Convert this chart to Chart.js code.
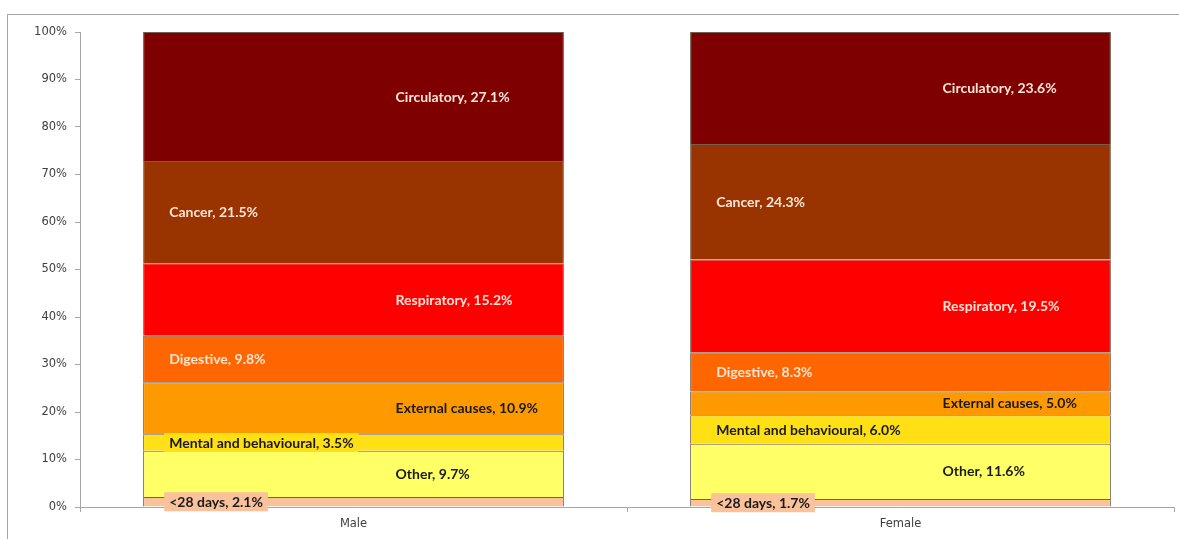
<!DOCTYPE html>
<html>
<head>
<meta charset="utf-8">
<script src="https://cdn.jsdelivr.net/npm/chart.js@4.4.0/dist/chart.umd.min.js"></script>
<style>
  html, body { margin: 0; padding: 0; background: #fff; overflow: hidden; }
  #frame { position: absolute; left: 7px; top: 14px; width: 1200px; height: 560px; border: 1px solid #a6a6a6; }
  #wrap { position: absolute; left: 0; top: 0; width: 1179px; height: 539px; }
</style>
</head>
<body>
<div id="frame"></div>
<div id="wrap"><canvas id="chart"></canvas></div>
<script>
// categories and causes, bottom of the stack first
const categories = ['Male', 'Female'];
const causes = ['<28 days', 'Other', 'Mental and behavioural', 'External causes', 'Digestive', 'Respiratory', 'Cancer', 'Circulatory'];
const maleShare = [2.1, 9.7, 3.5, 10.9, 9.8, 15.2, 21.5, 27.1];
const femaleShare = [1.7, 11.6, 6.0, 5.0, 8.3, 19.5, 24.3, 23.6];
const yTickValues = [0, 10, 20, 30, 40, 50, 60, 70, 80, 90, 100];

// styles
const fills = ['#F9C29A', '#FFFF66', '#FFE014', '#FF9900', '#FF6600', '#FF0000', '#993300', '#7F0000'];
const textColors = ['#1a1a1a', '#1a1a1a', '#1a1a1a', '#1a1a1a', '#FCE4D6', '#FCE4D6', '#FCE4D6', '#FCE4D6'];
const labelSide = ['left', 'right', 'left', 'right', 'left', 'right', 'left', 'right'];

const series = [maleShare, femaleShare];
const totals = series.map(s => s.reduce((a, b) => a + b, 0));

const datasets = causes.map((name, i) => ({
  label: name,
  data: series.map((s, c) => s[i] / totals[c] * 100),
  raw: series.map(s => s[i]),
  backgroundColor: fills[i],
  borderColor: 'rgba(70,40,20,0.75)',
  borderWidth: {top: 1, left: 1, right: 1, bottom: 0},
  borderSkipped: false,
  barPercentage: 1 / 1.3,
  categoryPercentage: 1
}));

const labelPlugin = {
  id: 'segmentLabels',
  afterDraw(chart) {
    const ctx = chart.ctx;
    ctx.save();
    ctx.font = 'bold 14px Lato';
    ctx.textBaseline = 'middle';
    ctx.textAlign = 'left';
    chart.data.datasets.forEach((ds, i) => {
      const meta = chart.getDatasetMeta(i);
      meta.data.forEach((bar, c) => {
        const left = bar.x - bar.width / 2;
        const text = ds.label + ', ' + ds.raw[c].toFixed(1) + '%';
        const tx = left + bar.width * (labelSide[i] === 'left' ? 0.062 : 0.6);
        const ty = (bar.y + bar.base) / 2;
        const w = ctx.measureText(text).width;
        ctx.fillStyle = fills[i];
        ctx.fillRect(tx - 5, ty - 9.5, w + 10, 19);
        ctx.fillStyle = textColors[i];
        ctx.fillText(text, tx, ty + 0.5);
      });
    });
    ctx.restore();
  }
};

new Chart(document.getElementById('chart'), {
  type: 'bar',
  data: { labels: categories, datasets: datasets },
  options: {
    responsive: true,
    maintainAspectRatio: false,
    animation: false,
    layout: { padding: { top: 32, right: 5, left: 0, bottom: 0 } },
    plugins: { legend: { display: false }, tooltip: { enabled: false } },
    scales: {
      x: {
        stacked: true,
        afterFit: s => { s.height = 32; },
        grid: { drawOnChartArea: false, tickLength: 5, color: '#a6a6a6', offset: true },
        border: { color: '#a6a6a6' },
        ticks: { color: '#404040', font: { family: 'DejaVu Sans', size: 11.5 }, padding: 5 }
      },
      y: {
        stacked: true,
        min: 0,
        max: 100,
        afterFit: s => { s.width = 80; },
        afterBuildTicks: s => { s.ticks = yTickValues.map(v => ({ value: v })); },
        grid: { drawOnChartArea: false, tickLength: 5, color: '#a6a6a6' },
        border: { color: '#a6a6a6' },
        ticks: { color: '#404040', font: { family: 'DejaVu Sans', size: 11.5 }, padding: 8, callback: v => v + '%' }
      }
    }
  },
  plugins: [labelPlugin]
});
</script>
</body>
</html>
